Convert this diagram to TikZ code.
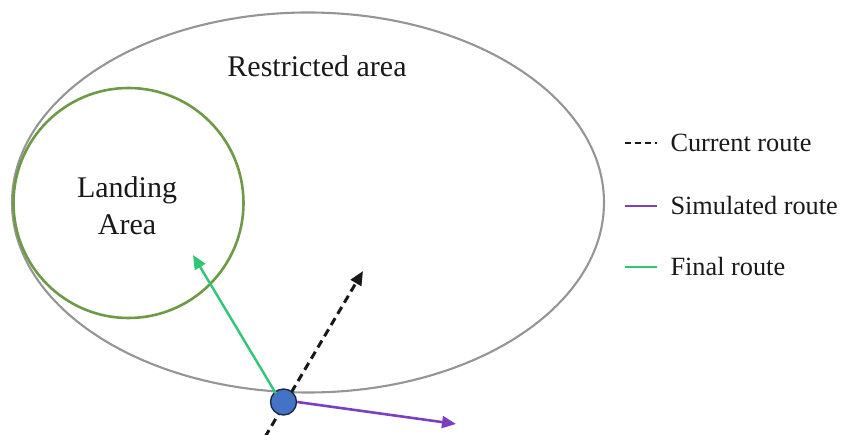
\documentclass[tikz,border=0pt]{standalone}
\usepackage{fontspec}
\setmainfont{Liberation Serif}
\usetikzlibrary{arrows.meta}
\definecolor{ellgray}{HTML}{959595}
\definecolor{landgreen}{HTML}{6E9A45}
\definecolor{routegreen}{HTML}{2FC774}
\definecolor{routepurple}{HTML}{7B3FC0}
\definecolor{dotblue}{HTML}{4472C4}
\definecolor{dotedge}{HTML}{1F2A44}
\tikzset{
  big/.style={font=\fontsize{30}{35}\selectfont, text=black!90},
  legtext/.style={font=\fontsize{26.3}{30}\selectfont, text=black!90, anchor=west},
  tip/.style={-{Triangle[length=14pt,width=12pt]}},
  currentroute/.style={black!90, line width=3pt, dash pattern=on 8pt off 5pt},
  simroute/.style={routepurple, line width=2.6pt},
  finalroute/.style={routegreen, line width=2.4pt},
}
\begin{document}
\begin{tikzpicture}[x=1pt,y=-1pt]
\useasboundingbox (0,0) rectangle (841,435);
% restricted area
\draw[ellgray, line width=2.1pt] (308,202.5) ellipse [x radius=296, y radius=190];
% landing area
\draw[landgreen, line width=2.6pt] (128.5,203) circle [radius=115];
\node[big] (restricted) at (317,66) {Restricted area};
\node[big, align=center] (landing) at (127,206) {Landing\\[2pt]Area};
% routes
\coordinate (curStart) at (265,437);
\coordinate (curEnd) at (363,271);
\coordinate (finEnd) at (193,255);
\coordinate (simEnd) at (456,424);
\draw[currentroute, tip] (curStart) -- (curEnd);
\node[circle, draw=dotedge, fill=dotblue, line width=1.4pt, minimum size=26pt, inner sep=0pt] (dot) at (283.5,402) {};
\draw[finalroute, tip] (dot.north west) ++(2,1) -- (finEnd);
\draw[simroute, tip] (dot.east) -- (simEnd);
% legend
\coordinate (l1a) at (625,143); \coordinate (l1b) at (657,143);
\coordinate (l2a) at (625,206); \coordinate (l2b) at (657,206);
\coordinate (l3a) at (625,267); \coordinate (l3b) at (657,267);
\draw[black!90, line width=2.2pt, dash pattern=on 6pt off 4pt] (l1a) -- (l1b);
\draw[simroute] (l2a) -- (l2b);
\draw[finalroute] (l3a) -- (l3b);
\node[legtext] (leg1) at (667,143) {Current route};
\node[legtext] (leg2) at (667,206) {Simulated route};
\node[legtext] (leg3) at (667,267) {Final route};
\end{tikzpicture}
\end{document}
